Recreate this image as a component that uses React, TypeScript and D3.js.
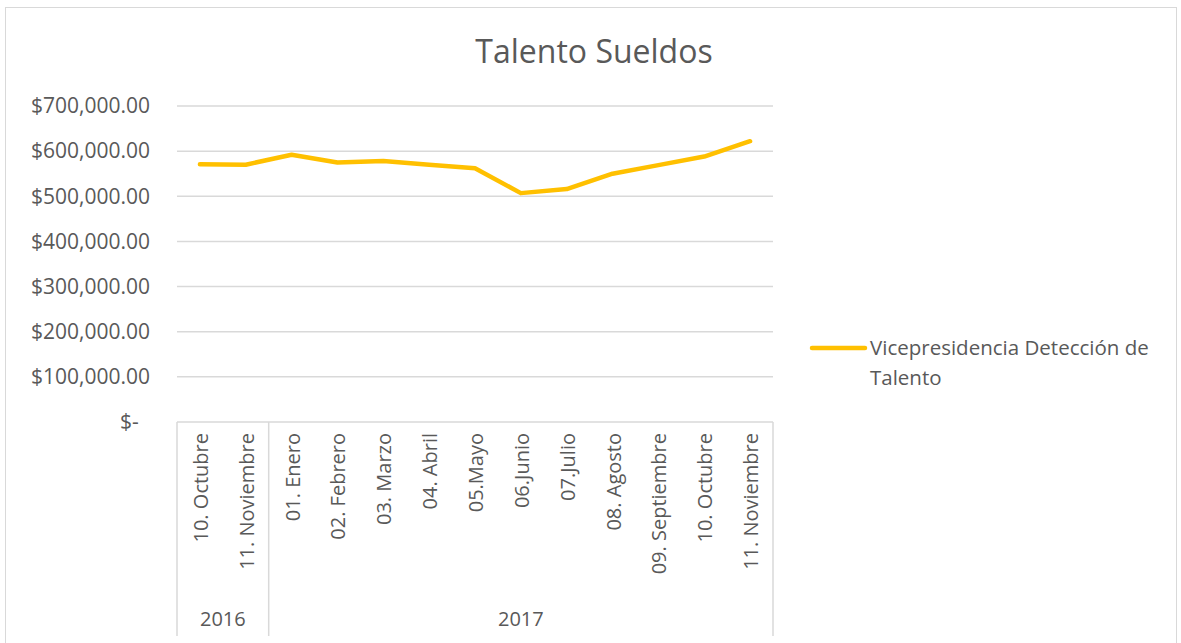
import React from 'react'
import * as d3 from 'd3'

const months = ['10. Octubre', '11. Noviembre', '01. Enero', '02. Febrero', '03. Marzo', '04. Abril', '05.Mayo', '06.Junio', '07.Julio', '08. Agosto', '09. Septiembre', '10. Octubre', '11. Noviembre']
const years = ['2016', '2016', '2017', '2017', '2017', '2017', '2017', '2017', '2017', '2017', '2017', '2017', '2017']
const sueldos = [571000, 570000, 592000, 575000, 578000, 570000, 562000, 507000, 516000, 550000, 569000, 588000, 622000]
const yTicks = [0, 100000, 200000, 300000, 400000, 500000, 600000, 700000]
const seriesName = 'Vicepresidencia Detección de Talento'

const W = 1181
const H = 643
const FONT = '"Open Sans", Lato, sans-serif'
const TXT = '#595959'

export default function App() {
  const margin = { top: 106, left: 177, right: 408, bottom: 221 }
  const plotW = W - margin.left - margin.right
  const plotH = H - margin.top - margin.bottom

  const x = d3.scaleBand<number>()
    .domain(d3.range(months.length))
    .range([margin.left, margin.left + plotW])
    .padding(0)
  const y = d3.scaleLinear().domain([0, 700000]).range([margin.top + plotH, margin.top])

  const line = d3.line<number>()
    .x((d, i) => (x(i) as number) + x.bandwidth() / 2)
    .y(d => y(d))

  const fmt = (v: number) => (v === 0 ? '$-' : '$' + d3.format(',.2f')(v))

  // year groups
  const groups: { year: string; start: number; end: number }[] = []
  years.forEach((yr, i) => {
    const g = groups[groups.length - 1]
    if (g && g.year === yr) g.end = i
    else groups.push({ year: yr, start: i, end: i })
  })

  const axisY = y(0)
  const bottomY = 636

  return (
    <svg width={W} height={H} style={{ position: 'absolute', left: 0, top: 0, background: '#fff' }} fontFamily={FONT}>
      <rect x={5.5} y={7.5} width={1171} height={H} fill="#fff" stroke="#d9d9d9" strokeWidth={1} />
      <text x={594} y={63} textAnchor="middle" fontSize={32} fill={TXT}>Talento Sueldos</text>

      {yTicks.map(t => (
        <g key={t}>
          {t > 0 && (
            <line x1={margin.left} x2={margin.left + plotW} y1={y(t)} y2={y(t)} stroke="#d9d9d9" strokeWidth={1.5} />
          )}
          <text x={t === 0 ? 120 : 150} y={y(t)} dy="0.35em" textAnchor={t === 0 ? 'start' : 'end'} fontSize={21} fill={TXT}>
            {fmt(t)}
          </text>
        </g>
      ))}

      {/* category axis */}
      <line x1={margin.left} x2={margin.left + plotW} y1={axisY} y2={axisY} stroke="#d9d9d9" strokeWidth={1.5} />
      {groups.map((g, gi) => {
        const x0 = x(g.start) as number
        const x1 = (x(g.end) as number) + x.bandwidth()
        return (
          <g key={gi}>
            {gi === 0 && <line x1={x0} x2={x0} y1={axisY} y2={bottomY} stroke="#d9d9d9" strokeWidth={1.5} />}
            <line x1={x1} x2={x1} y1={axisY} y2={bottomY} stroke="#d9d9d9" strokeWidth={1.5} />
            <text x={(x0 + x1) / 2} y={626} textAnchor="middle" fontSize={20} fill={TXT}>{g.year}</text>
          </g>
        )
      })}
      {months.map((m, i) => {
        const cx = (x(i) as number) + x.bandwidth() / 2
        return (
          <text key={i} transform={`translate(${cx + 8},${axisY + 11}) rotate(-90)`} textAnchor="end" fontSize={20} fill={TXT}>
            {m}
          </text>
        )
      })}

      <path d={line(sueldos) || ''} fill="none" stroke="#FFC000" strokeWidth={4.5} strokeLinejoin="round" strokeLinecap="round" />

      {/* legend */}
      <line x1={812} x2={865} y1={348} y2={348} stroke="#FFC000" strokeWidth={4.5} strokeLinecap="round" />
      <text x={870} y={348} dy="0.35em" fontSize={20.5} fill={TXT}>{seriesName.split(' de ')[0] + ' de'}</text>
      <text x={870} y={378} dy="0.35em" fontSize={20.5} fill={TXT}>Talento</text>
    </svg>
  )
}
